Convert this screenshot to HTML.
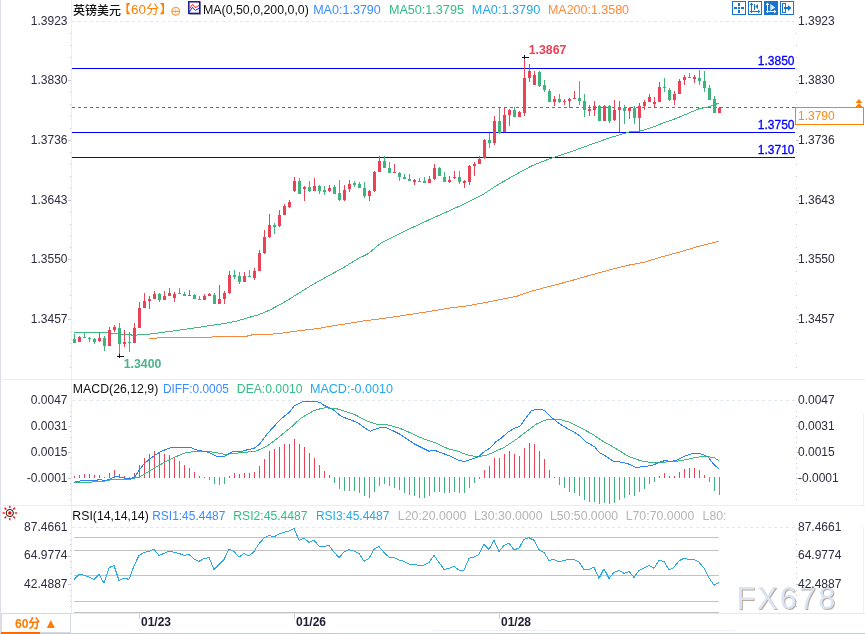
<!DOCTYPE html>
<html><head><meta charset="utf-8"><title>GBPUSD</title>
<style>
html,body{margin:0;padding:0;background:#fff;}
body{width:865px;height:634px;overflow:hidden;position:relative;}
svg{position:absolute;left:0;top:0;}
svg text{font-family:"Liberation Sans", Arial, sans-serif;font-size:12px;}
.cjk{font-family:"Liberation Sans", "Noto Sans CJK SC", sans-serif;}
</style></head><body>
<svg width="865" height="634" viewBox="0 0 865 634">
<text x="737.5" y="609.8" style="font-size:30.5px;letter-spacing:2.2px" fill="#b3a291" opacity="0.9">FX678</text>
<text x="736.5" y="608.8" style="font-size:30.5px;letter-spacing:2.2px" fill="#d9e5f4">FX678</text>
<g shape-rendering="crispEdges">
<rect x="0" y="0" width="1" height="634" fill="#dcdee8"/>
<rect x="71" y="0" width="1" height="613" fill="#e9eef4"/>
<rect x="0" y="379" width="865" height="1" fill="#eaeef3"/>
<rect x="0" y="505" width="865" height="1" fill="#eaeef3"/>
<rect x="0" y="613" width="865" height="1" fill="#e3e8ee"/>
<rect x="0" y="633" width="865" height="1" fill="#c9ced6"/>
<rect x="433" y="630" width="302" height="1" fill="#eef1f5"/>
<rect x="863" y="413" width="1" height="92" fill="#eef1f5"/>
<rect x="863" y="527" width="1" height="86" fill="#eef1f5"/>
<line x1="72" y1="21.5" x2="795" y2="21.5" stroke="#e3e8ee" stroke-width="1" stroke-dasharray="3,3"/>
<line x1="72" y1="400.5" x2="795" y2="400.5" stroke="#e3e8ee" stroke-width="1" stroke-dasharray="3,3"/>
<line x1="72" y1="527.5" x2="795" y2="527.5" stroke="#e3e8ee" stroke-width="1" stroke-dasharray="3,3"/>
</g>
<g fill="#c4cad4" shape-rendering="crispEdges">
<rect x="70" y="33" width="1" height="1"/>
<rect x="796" y="33" width="1" height="1"/>
<rect x="70" y="45" width="1" height="1"/>
<rect x="796" y="45" width="1" height="1"/>
<rect x="70" y="57" width="1" height="1"/>
<rect x="796" y="57" width="1" height="1"/>
<rect x="70" y="69" width="1" height="1"/>
<rect x="796" y="69" width="1" height="1"/>
<rect x="68" y="80" width="3" height="1"/>
<rect x="796" y="80" width="3" height="1"/>
<rect x="70" y="92" width="1" height="1"/>
<rect x="796" y="92" width="1" height="1"/>
<rect x="70" y="104" width="1" height="1"/>
<rect x="796" y="104" width="1" height="1"/>
<rect x="70" y="116" width="1" height="1"/>
<rect x="796" y="116" width="1" height="1"/>
<rect x="70" y="128" width="1" height="1"/>
<rect x="796" y="128" width="1" height="1"/>
<rect x="68" y="140" width="3" height="1"/>
<rect x="796" y="140" width="3" height="1"/>
<rect x="70" y="152" width="1" height="1"/>
<rect x="796" y="152" width="1" height="1"/>
<rect x="70" y="164" width="1" height="1"/>
<rect x="796" y="164" width="1" height="1"/>
<rect x="70" y="176" width="1" height="1"/>
<rect x="796" y="176" width="1" height="1"/>
<rect x="70" y="188" width="1" height="1"/>
<rect x="796" y="188" width="1" height="1"/>
<rect x="68" y="200" width="3" height="1"/>
<rect x="796" y="200" width="3" height="1"/>
<rect x="70" y="212" width="1" height="1"/>
<rect x="796" y="212" width="1" height="1"/>
<rect x="70" y="224" width="1" height="1"/>
<rect x="796" y="224" width="1" height="1"/>
<rect x="70" y="236" width="1" height="1"/>
<rect x="796" y="236" width="1" height="1"/>
<rect x="70" y="247" width="1" height="1"/>
<rect x="796" y="247" width="1" height="1"/>
<rect x="68" y="259" width="3" height="1"/>
<rect x="796" y="259" width="3" height="1"/>
<rect x="70" y="271" width="1" height="1"/>
<rect x="796" y="271" width="1" height="1"/>
<rect x="70" y="283" width="1" height="1"/>
<rect x="796" y="283" width="1" height="1"/>
<rect x="70" y="295" width="1" height="1"/>
<rect x="796" y="295" width="1" height="1"/>
<rect x="70" y="307" width="1" height="1"/>
<rect x="796" y="307" width="1" height="1"/>
<rect x="68" y="319" width="3" height="1"/>
<rect x="796" y="319" width="3" height="1"/>
<rect x="70" y="331" width="1" height="1"/>
<rect x="796" y="331" width="1" height="1"/>
<rect x="70" y="343" width="1" height="1"/>
<rect x="796" y="343" width="1" height="1"/>
<rect x="70" y="355" width="1" height="1"/>
<rect x="796" y="355" width="1" height="1"/>
<rect x="70" y="367" width="1" height="1"/>
<rect x="796" y="367" width="1" height="1"/>
<rect x="70" y="405" width="1" height="1"/>
<rect x="796" y="405" width="1" height="1"/>
<rect x="70" y="411" width="1" height="1"/>
<rect x="796" y="411" width="1" height="1"/>
<rect x="70" y="416" width="1" height="1"/>
<rect x="796" y="416" width="1" height="1"/>
<rect x="70" y="421" width="1" height="1"/>
<rect x="796" y="421" width="1" height="1"/>
<rect x="68" y="426" width="3" height="1"/>
<rect x="796" y="426" width="3" height="1"/>
<rect x="70" y="431" width="1" height="1"/>
<rect x="796" y="431" width="1" height="1"/>
<rect x="70" y="437" width="1" height="1"/>
<rect x="796" y="437" width="1" height="1"/>
<rect x="70" y="442" width="1" height="1"/>
<rect x="796" y="442" width="1" height="1"/>
<rect x="70" y="447" width="1" height="1"/>
<rect x="796" y="447" width="1" height="1"/>
<rect x="68" y="452" width="3" height="1"/>
<rect x="796" y="452" width="3" height="1"/>
<rect x="70" y="457" width="1" height="1"/>
<rect x="796" y="457" width="1" height="1"/>
<rect x="70" y="463" width="1" height="1"/>
<rect x="796" y="463" width="1" height="1"/>
<rect x="70" y="468" width="1" height="1"/>
<rect x="796" y="468" width="1" height="1"/>
<rect x="70" y="473" width="1" height="1"/>
<rect x="796" y="473" width="1" height="1"/>
<rect x="68" y="478" width="3" height="1"/>
<rect x="796" y="478" width="3" height="1"/>
<rect x="70" y="483" width="1" height="1"/>
<rect x="796" y="483" width="1" height="1"/>
<rect x="70" y="489" width="1" height="1"/>
<rect x="796" y="489" width="1" height="1"/>
<rect x="70" y="494" width="1" height="1"/>
<rect x="796" y="494" width="1" height="1"/>
<rect x="70" y="499" width="1" height="1"/>
<rect x="796" y="499" width="1" height="1"/>
<rect x="70" y="533" width="1" height="1"/>
<rect x="796" y="533" width="1" height="1"/>
<rect x="70" y="539" width="1" height="1"/>
<rect x="796" y="539" width="1" height="1"/>
<rect x="70" y="544" width="1" height="1"/>
<rect x="796" y="544" width="1" height="1"/>
<rect x="70" y="550" width="1" height="1"/>
<rect x="796" y="550" width="1" height="1"/>
<rect x="68" y="556" width="3" height="1"/>
<rect x="796" y="556" width="3" height="1"/>
<rect x="70" y="561" width="1" height="1"/>
<rect x="796" y="561" width="1" height="1"/>
<rect x="70" y="567" width="1" height="1"/>
<rect x="796" y="567" width="1" height="1"/>
<rect x="70" y="573" width="1" height="1"/>
<rect x="796" y="573" width="1" height="1"/>
<rect x="70" y="578" width="1" height="1"/>
<rect x="796" y="578" width="1" height="1"/>
<rect x="68" y="584" width="3" height="1"/>
<rect x="796" y="584" width="3" height="1"/>
<rect x="70" y="590" width="1" height="1"/>
<rect x="796" y="590" width="1" height="1"/>
<rect x="70" y="595" width="1" height="1"/>
<rect x="796" y="595" width="1" height="1"/>
<rect x="70" y="601" width="1" height="1"/>
<rect x="796" y="601" width="1" height="1"/>
<rect x="70" y="606" width="1" height="1"/>
<rect x="796" y="606" width="1" height="1"/>
</g>
<g shape-rendering="crispEdges">
<rect x="72" y="68" width="723" height="1" fill="#0000ff"/>
<rect x="72" y="132" width="723" height="1" fill="#0000ff"/>
<rect x="72" y="157" width="723" height="1" fill="#0000ff"/>
<line x1="72" y1="107.5" x2="795" y2="107.5" stroke="#1a7dff" stroke-width="1" stroke-dasharray="3,3"/>
</g>
<polyline points="149.2,338.5 156.6,338.5 157.6,337.7 210.3,337.4 214.0,336.6 247.3,336.1 249.1,335.1 267.6,334.4 276.9,333.7 288.0,332.4 293.5,331.4 300.0,330.6 316.2,328.8 332.4,325.9 348.5,323.5 364.7,320.7 380.9,318.8 397.1,316.4 413.3,313.9 430.0,311.4 447.3,308.4 464.7,306.2 482.0,303.2 499.4,299.7 516.7,296.3 525.4,293.1 534.0,290.5 551.4,285.9 568.7,281.4 580.0,278.1 592.3,274.7 609.7,269.9 627.0,265.5 644.4,262.1 661.7,256.9 679.0,252.2 696.4,247.0 713.7,242.5 718.6,241.3" fill="none" stroke="#f58a3c" stroke-width="1" shape-rendering="crispEdges"/>
<polyline points="74.0,332.5 107.0,332.5 112.0,333.5 122.0,334.3 134.0,335.2 140.0,334.8 151.1,333.9 162.2,332.4 173.3,331.0 184.4,329.4 195.5,327.8 210.3,325.5 223.2,323.7 236.2,321.3 247.3,317.9 258.4,314.8 269.5,310.2 280.6,304.3 288.0,300.0 296.2,294.8 312.4,284.7 328.5,275.8 344.7,266.9 357.7,258.8 368.2,253.7 380.3,243.5 393.3,237.0 409.4,228.9 427.3,220.6 444.7,212.8 462.0,205.0 482.8,194.6 496.7,185.4 514.0,175.5 531.4,166.0 548.7,159.1 570.2,152.0 590.5,144.6 610.7,137.5 629.0,132.0 641.8,130.8 655.0,126.3 663.9,122.6 675.2,118.8 685.0,114.7 698.5,109.0 709.3,106.8 718.7,103.2" fill="none" stroke="#3dbb7e" stroke-width="1" shape-rendering="crispEdges"/>
<g shape-rendering="crispEdges">
<rect x="74" y="334" width="1" height="9" fill="#40b27b"/>
<rect x="73" y="339" width="3" height="4" fill="#40b27b"/>
<rect x="79" y="336" width="1" height="6" fill="#e84356"/>
<rect x="78" y="337" width="3" height="5" fill="#e84356"/>
<rect x="84" y="333" width="1" height="5" fill="#40b27b"/>
<rect x="83" y="337" width="3" height="1" fill="#40b27b"/>
<rect x="89" y="337" width="1" height="5" fill="#40b27b"/>
<rect x="88" y="338" width="3" height="1" fill="#40b27b"/>
<rect x="94" y="338" width="1" height="6" fill="#40b27b"/>
<rect x="93" y="339" width="3" height="3" fill="#40b27b"/>
<rect x="99" y="333" width="1" height="9" fill="#e84356"/>
<rect x="98" y="338" width="3" height="3" fill="#e84356"/>
<rect x="104" y="336" width="1" height="15" fill="#40b27b"/>
<rect x="103" y="338" width="3" height="8" fill="#40b27b"/>
<rect x="109" y="327" width="1" height="19" fill="#e84356"/>
<rect x="108" y="330" width="3" height="16" fill="#e84356"/>
<rect x="114" y="325" width="1" height="7" fill="#e84356"/>
<rect x="113" y="327" width="3" height="3" fill="#e84356"/>
<rect x="119" y="323" width="1" height="31" fill="#40b27b"/>
<rect x="118" y="328" width="3" height="16" fill="#40b27b"/>
<rect x="124" y="330" width="1" height="17" fill="#e84356"/>
<rect x="123" y="342" width="3" height="2" fill="#e84356"/>
<rect x="129" y="332" width="1" height="20" fill="#40b27b"/>
<rect x="128" y="342" width="3" height="1" fill="#40b27b"/>
<rect x="134" y="323" width="1" height="20" fill="#e84356"/>
<rect x="133" y="328" width="3" height="15" fill="#e84356"/>
<rect x="139" y="302" width="1" height="26" fill="#e84356"/>
<rect x="138" y="308" width="3" height="20" fill="#e84356"/>
<rect x="144" y="293" width="1" height="15" fill="#e84356"/>
<rect x="143" y="301" width="3" height="7" fill="#e84356"/>
<rect x="149" y="296" width="1" height="13" fill="#e84356"/>
<rect x="148" y="299" width="3" height="2" fill="#e84356"/>
<rect x="154" y="291" width="1" height="8" fill="#e84356"/>
<rect x="153" y="294" width="3" height="5" fill="#e84356"/>
<rect x="159" y="293" width="1" height="9" fill="#40b27b"/>
<rect x="158" y="294" width="3" height="6" fill="#40b27b"/>
<rect x="164" y="291" width="1" height="9" fill="#e84356"/>
<rect x="163" y="296" width="3" height="4" fill="#e84356"/>
<rect x="169" y="288" width="1" height="8" fill="#e84356"/>
<rect x="168" y="293" width="3" height="3" fill="#e84356"/>
<rect x="174" y="292" width="1" height="10" fill="#e84356"/>
<rect x="173" y="294" width="3" height="4" fill="#e84356"/>
<rect x="179" y="288" width="1" height="6" fill="#40b27b"/>
<rect x="178" y="293" width="3" height="1" fill="#40b27b"/>
<rect x="184" y="292" width="1" height="4" fill="#40b27b"/>
<rect x="183" y="294" width="3" height="2" fill="#40b27b"/>
<rect x="189" y="290" width="1" height="6" fill="#e84356"/>
<rect x="188" y="295" width="3" height="1" fill="#e84356"/>
<rect x="194" y="294" width="1" height="5" fill="#40b27b"/>
<rect x="193" y="295" width="3" height="4" fill="#40b27b"/>
<rect x="199" y="296" width="1" height="4" fill="#40b27b"/>
<rect x="198" y="299" width="3" height="1" fill="#40b27b"/>
<rect x="204" y="294" width="1" height="6" fill="#e84356"/>
<rect x="203" y="296" width="3" height="4" fill="#e84356"/>
<rect x="209" y="293" width="1" height="3" fill="#e84356"/>
<rect x="208" y="294" width="3" height="2" fill="#e84356"/>
<rect x="214" y="293" width="1" height="11" fill="#40b27b"/>
<rect x="213" y="295" width="3" height="9" fill="#40b27b"/>
<rect x="219" y="285" width="1" height="19" fill="#e84356"/>
<rect x="218" y="299" width="3" height="5" fill="#e84356"/>
<rect x="224" y="291" width="1" height="13" fill="#e84356"/>
<rect x="223" y="293" width="3" height="6" fill="#e84356"/>
<rect x="229" y="271" width="1" height="23" fill="#e84356"/>
<rect x="228" y="275" width="3" height="18" fill="#e84356"/>
<rect x="234" y="270" width="1" height="9" fill="#40b27b"/>
<rect x="233" y="275" width="3" height="2" fill="#40b27b"/>
<rect x="239" y="272" width="1" height="12" fill="#40b27b"/>
<rect x="238" y="276" width="3" height="6" fill="#40b27b"/>
<rect x="244" y="272" width="1" height="10" fill="#e84356"/>
<rect x="243" y="276" width="3" height="6" fill="#e84356"/>
<rect x="249" y="270" width="1" height="7" fill="#40b27b"/>
<rect x="248" y="276" width="3" height="1" fill="#40b27b"/>
<rect x="254" y="268" width="1" height="12" fill="#e84356"/>
<rect x="253" y="271" width="3" height="7" fill="#e84356"/>
<rect x="259" y="250" width="1" height="21" fill="#e84356"/>
<rect x="258" y="253" width="3" height="18" fill="#e84356"/>
<rect x="264" y="230" width="1" height="24" fill="#e84356"/>
<rect x="263" y="237" width="3" height="16" fill="#e84356"/>
<rect x="269" y="214" width="1" height="24" fill="#e84356"/>
<rect x="268" y="225" width="3" height="12" fill="#e84356"/>
<rect x="274" y="223" width="1" height="11" fill="#40b27b"/>
<rect x="273" y="225" width="3" height="2" fill="#40b27b"/>
<rect x="279" y="210" width="1" height="17" fill="#e84356"/>
<rect x="278" y="215" width="3" height="11" fill="#e84356"/>
<rect x="284" y="204" width="1" height="11" fill="#e84356"/>
<rect x="283" y="206" width="3" height="9" fill="#e84356"/>
<rect x="289" y="200" width="1" height="8" fill="#e84356"/>
<rect x="288" y="202" width="3" height="5" fill="#e84356"/>
<rect x="294" y="177" width="1" height="15" fill="#e84356"/>
<rect x="293" y="181" width="3" height="10" fill="#e84356"/>
<rect x="299" y="178" width="1" height="16" fill="#40b27b"/>
<rect x="298" y="181" width="3" height="13" fill="#40b27b"/>
<rect x="304" y="186" width="1" height="15" fill="#e84356"/>
<rect x="303" y="187" width="3" height="2" fill="#e84356"/>
<rect x="309" y="181" width="1" height="11" fill="#40b27b"/>
<rect x="308" y="187" width="3" height="4" fill="#40b27b"/>
<rect x="314" y="178" width="1" height="13" fill="#e84356"/>
<rect x="313" y="186" width="3" height="5" fill="#e84356"/>
<rect x="319" y="185" width="1" height="9" fill="#40b27b"/>
<rect x="318" y="186" width="3" height="5" fill="#40b27b"/>
<rect x="324" y="186" width="1" height="9" fill="#40b27b"/>
<rect x="323" y="190" width="3" height="2" fill="#40b27b"/>
<rect x="329" y="185" width="1" height="7" fill="#e84356"/>
<rect x="328" y="188" width="3" height="3" fill="#e84356"/>
<rect x="334" y="185" width="1" height="9" fill="#40b27b"/>
<rect x="333" y="187" width="3" height="7" fill="#40b27b"/>
<rect x="339" y="180" width="1" height="21" fill="#40b27b"/>
<rect x="338" y="193" width="3" height="7" fill="#40b27b"/>
<rect x="344" y="185" width="1" height="16" fill="#e84356"/>
<rect x="343" y="190" width="3" height="10" fill="#e84356"/>
<rect x="349" y="180" width="1" height="12" fill="#e84356"/>
<rect x="348" y="184" width="3" height="5" fill="#e84356"/>
<rect x="354" y="181" width="1" height="6" fill="#40b27b"/>
<rect x="353" y="183" width="3" height="2" fill="#40b27b"/>
<rect x="359" y="182" width="1" height="6" fill="#40b27b"/>
<rect x="358" y="184" width="3" height="4" fill="#40b27b"/>
<rect x="364" y="182" width="1" height="16" fill="#40b27b"/>
<rect x="363" y="188" width="3" height="8" fill="#40b27b"/>
<rect x="369" y="190" width="1" height="11" fill="#e84356"/>
<rect x="368" y="191" width="3" height="5" fill="#e84356"/>
<rect x="374" y="171" width="1" height="21" fill="#e84356"/>
<rect x="373" y="172" width="3" height="19" fill="#e84356"/>
<rect x="379" y="156" width="1" height="16" fill="#e84356"/>
<rect x="378" y="161" width="3" height="11" fill="#e84356"/>
<rect x="384" y="156" width="1" height="12" fill="#40b27b"/>
<rect x="383" y="161" width="3" height="7" fill="#40b27b"/>
<rect x="389" y="162" width="1" height="11" fill="#40b27b"/>
<rect x="388" y="168" width="3" height="5" fill="#40b27b"/>
<rect x="394" y="164" width="1" height="9" fill="#e84356"/>
<rect x="393" y="172" width="3" height="1" fill="#e84356"/>
<rect x="399" y="172" width="1" height="9" fill="#40b27b"/>
<rect x="398" y="173" width="3" height="4" fill="#40b27b"/>
<rect x="404" y="174" width="1" height="5" fill="#40b27b"/>
<rect x="403" y="177" width="3" height="2" fill="#40b27b"/>
<rect x="409" y="174" width="1" height="7" fill="#40b27b"/>
<rect x="408" y="179" width="3" height="2" fill="#40b27b"/>
<rect x="414" y="179" width="1" height="6" fill="#e84356"/>
<rect x="413" y="180" width="3" height="2" fill="#e84356"/>
<rect x="419" y="178" width="1" height="4" fill="#40b27b"/>
<rect x="418" y="181" width="3" height="1" fill="#40b27b"/>
<rect x="424" y="177" width="1" height="6" fill="#40b27b"/>
<rect x="423" y="181" width="3" height="2" fill="#40b27b"/>
<rect x="429" y="176" width="1" height="7" fill="#e84356"/>
<rect x="428" y="179" width="3" height="4" fill="#e84356"/>
<rect x="434" y="164" width="1" height="16" fill="#e84356"/>
<rect x="433" y="168" width="3" height="11" fill="#e84356"/>
<rect x="439" y="167" width="1" height="9" fill="#40b27b"/>
<rect x="438" y="168" width="3" height="8" fill="#40b27b"/>
<rect x="444" y="172" width="1" height="10" fill="#40b27b"/>
<rect x="443" y="177" width="3" height="5" fill="#40b27b"/>
<rect x="449" y="176" width="1" height="7" fill="#e84356"/>
<rect x="448" y="180" width="3" height="2" fill="#e84356"/>
<rect x="454" y="171" width="1" height="8" fill="#e84356"/>
<rect x="453" y="177" width="3" height="1" fill="#e84356"/>
<rect x="459" y="171" width="1" height="13" fill="#40b27b"/>
<rect x="458" y="177" width="3" height="5" fill="#40b27b"/>
<rect x="464" y="180" width="1" height="8" fill="#e84356"/>
<rect x="463" y="181" width="3" height="2" fill="#e84356"/>
<rect x="469" y="165" width="1" height="20" fill="#e84356"/>
<rect x="468" y="166" width="3" height="16" fill="#e84356"/>
<rect x="474" y="162" width="1" height="14" fill="#e84356"/>
<rect x="473" y="164" width="3" height="2" fill="#e84356"/>
<rect x="479" y="156" width="1" height="8" fill="#e84356"/>
<rect x="478" y="159" width="3" height="5" fill="#e84356"/>
<rect x="484" y="139" width="1" height="20" fill="#e84356"/>
<rect x="483" y="140" width="3" height="18" fill="#e84356"/>
<rect x="489" y="133" width="1" height="15" fill="#40b27b"/>
<rect x="488" y="140" width="3" height="3" fill="#40b27b"/>
<rect x="494" y="116" width="1" height="29" fill="#e84356"/>
<rect x="493" y="121" width="3" height="22" fill="#e84356"/>
<rect x="499" y="108" width="1" height="26" fill="#40b27b"/>
<rect x="498" y="121" width="3" height="12" fill="#40b27b"/>
<rect x="504" y="108" width="1" height="24" fill="#e84356"/>
<rect x="503" y="115" width="3" height="17" fill="#e84356"/>
<rect x="509" y="109" width="1" height="17" fill="#e84356"/>
<rect x="508" y="110" width="3" height="5" fill="#e84356"/>
<rect x="514" y="107" width="1" height="10" fill="#40b27b"/>
<rect x="513" y="110" width="3" height="7" fill="#40b27b"/>
<rect x="519" y="111" width="1" height="6" fill="#e84356"/>
<rect x="518" y="112" width="3" height="5" fill="#e84356"/>
<rect x="524" y="59" width="1" height="57" fill="#e84356"/>
<rect x="523" y="78" width="3" height="35" fill="#e84356"/>
<rect x="529" y="64" width="1" height="18" fill="#e84356"/>
<rect x="528" y="71" width="3" height="7" fill="#e84356"/>
<rect x="534" y="71" width="1" height="14" fill="#e84356"/>
<rect x="533" y="75" width="3" height="10" fill="#e84356"/>
<rect x="539" y="71" width="1" height="16" fill="#40b27b"/>
<rect x="538" y="72" width="3" height="14" fill="#40b27b"/>
<rect x="544" y="80" width="1" height="12" fill="#40b27b"/>
<rect x="543" y="85" width="3" height="5" fill="#40b27b"/>
<rect x="549" y="89" width="1" height="13" fill="#40b27b"/>
<rect x="548" y="91" width="3" height="11" fill="#40b27b"/>
<rect x="554" y="96" width="1" height="10" fill="#e84356"/>
<rect x="553" y="99" width="3" height="3" fill="#e84356"/>
<rect x="559" y="94" width="1" height="9" fill="#40b27b"/>
<rect x="558" y="99" width="3" height="3" fill="#40b27b"/>
<rect x="564" y="99" width="1" height="6" fill="#e84356"/>
<rect x="563" y="101" width="3" height="1" fill="#e84356"/>
<rect x="569" y="98" width="1" height="10" fill="#e84356"/>
<rect x="568" y="99" width="3" height="2" fill="#e84356"/>
<rect x="574" y="91" width="1" height="8" fill="#e84356"/>
<rect x="573" y="98" width="3" height="1" fill="#e84356"/>
<rect x="579" y="81" width="1" height="24" fill="#40b27b"/>
<rect x="578" y="98" width="3" height="3" fill="#40b27b"/>
<rect x="584" y="94" width="1" height="23" fill="#40b27b"/>
<rect x="583" y="101" width="3" height="9" fill="#40b27b"/>
<rect x="589" y="105" width="1" height="11" fill="#e84356"/>
<rect x="588" y="109" width="3" height="2" fill="#e84356"/>
<rect x="594" y="101" width="1" height="15" fill="#e84356"/>
<rect x="593" y="106" width="3" height="4" fill="#e84356"/>
<rect x="599" y="105" width="1" height="16" fill="#40b27b"/>
<rect x="598" y="106" width="3" height="15" fill="#40b27b"/>
<rect x="604" y="105" width="1" height="16" fill="#e84356"/>
<rect x="603" y="106" width="3" height="15" fill="#e84356"/>
<rect x="609" y="105" width="1" height="18" fill="#40b27b"/>
<rect x="608" y="106" width="3" height="15" fill="#40b27b"/>
<rect x="614" y="100" width="1" height="21" fill="#e84356"/>
<rect x="613" y="110" width="3" height="10" fill="#e84356"/>
<rect x="619" y="101" width="1" height="31" fill="#e84356"/>
<rect x="618" y="108" width="3" height="2" fill="#e84356"/>
<rect x="624" y="105" width="1" height="19" fill="#40b27b"/>
<rect x="623" y="108" width="3" height="3" fill="#40b27b"/>
<rect x="629" y="107" width="1" height="12" fill="#e84356"/>
<rect x="628" y="108" width="3" height="3" fill="#e84356"/>
<rect x="634" y="106" width="1" height="18" fill="#40b27b"/>
<rect x="633" y="108" width="3" height="10" fill="#40b27b"/>
<rect x="639" y="103" width="1" height="29" fill="#e84356"/>
<rect x="638" y="106" width="3" height="12" fill="#e84356"/>
<rect x="644" y="100" width="1" height="10" fill="#e84356"/>
<rect x="643" y="102" width="3" height="4" fill="#e84356"/>
<rect x="649" y="94" width="1" height="8" fill="#e84356"/>
<rect x="648" y="97" width="3" height="5" fill="#e84356"/>
<rect x="654" y="97" width="1" height="10" fill="#e84356"/>
<rect x="653" y="102" width="3" height="2" fill="#e84356"/>
<rect x="659" y="82" width="1" height="20" fill="#e84356"/>
<rect x="658" y="87" width="3" height="15" fill="#e84356"/>
<rect x="664" y="78" width="1" height="14" fill="#40b27b"/>
<rect x="663" y="87" width="3" height="1" fill="#40b27b"/>
<rect x="669" y="88" width="1" height="13" fill="#40b27b"/>
<rect x="668" y="90" width="3" height="10" fill="#40b27b"/>
<rect x="674" y="91" width="1" height="14" fill="#e84356"/>
<rect x="673" y="94" width="3" height="6" fill="#e84356"/>
<rect x="679" y="79" width="1" height="15" fill="#e84356"/>
<rect x="678" y="81" width="3" height="13" fill="#e84356"/>
<rect x="684" y="75" width="1" height="10" fill="#e84356"/>
<rect x="683" y="77" width="3" height="3" fill="#e84356"/>
<rect x="689" y="73" width="1" height="5" fill="#40b27b"/>
<rect x="688" y="77" width="3" height="1" fill="#40b27b"/>
<rect x="694" y="75" width="1" height="8" fill="#e84356"/>
<rect x="693" y="77" width="3" height="2" fill="#e84356"/>
<rect x="699" y="70" width="1" height="15" fill="#40b27b"/>
<rect x="698" y="78" width="3" height="3" fill="#40b27b"/>
<rect x="704" y="71" width="1" height="21" fill="#40b27b"/>
<rect x="703" y="81" width="3" height="7" fill="#40b27b"/>
<rect x="709" y="85" width="1" height="15" fill="#40b27b"/>
<rect x="708" y="88" width="3" height="12" fill="#40b27b"/>
<rect x="714" y="96" width="1" height="17" fill="#40b27b"/>
<rect x="713" y="99" width="3" height="14" fill="#40b27b"/>
<rect x="719" y="107" width="1" height="6" fill="#e84356"/>
<rect x="718" y="108" width="3" height="5" fill="#e84356"/>
</g>
<g shape-rendering="crispEdges" fill="#111">
<rect x="522" y="57" width="7" height="1"/><rect x="524" y="55" width="1" height="4"/>
<rect x="117" y="356" width="7" height="1"/><rect x="119" y="354" width="1" height="4"/>
</g>
<text x="528.7" y="54" style="font-weight:bold" fill="#e84356" textLength="37.7" lengthAdjust="spacingAndGlyphs">1.3867</text>
<text x="123.7" y="367.5" style="font-weight:bold" fill="#47b58a" textLength="37.7" lengthAdjust="spacingAndGlyphs">1.3400</text>
<text x="794.5" y="65" text-anchor="end" fill="#0000ff" stroke="#0000ff" stroke-width="0.3">1.3850</text>
<text x="794.5" y="128.5" text-anchor="end" fill="#0000ff" stroke="#0000ff" stroke-width="0.3">1.3750</text>
<text x="794.5" y="153.5" text-anchor="end" fill="#0000ff" stroke="#0000ff" stroke-width="0.3">1.3710</text>
<rect x="795.5" y="107.5" width="68" height="17" fill="#fff" stroke="#ff7f00" stroke-width="1"/>
<text x="798" y="120" fill="#ff8a10">1.3790</text>
<path d="M859 99 L862.5 103 L855.5 103 Z M859 103 L863 107.5 L855 107.5 Z" fill="#ff7f00"/>
<text x="67.5" y="24.9" text-anchor="end" fill="#2d2c40">1.3923</text>
<text x="798" y="24.9" fill="#2d2c40">1.3923</text>
<text x="67.5" y="83.9" text-anchor="end" fill="#2d2c40">1.3830</text>
<text x="798" y="83.9" fill="#2d2c40">1.3830</text>
<text x="67.5" y="143.9" text-anchor="end" fill="#2d2c40">1.3736</text>
<text x="798" y="143.9" fill="#2d2c40">1.3736</text>
<text x="67.5" y="203.9" text-anchor="end" fill="#2d2c40">1.3643</text>
<text x="798" y="203.9" fill="#2d2c40">1.3643</text>
<text x="67.5" y="262.9" text-anchor="end" fill="#2d2c40">1.3550</text>
<text x="798" y="262.9" fill="#2d2c40">1.3550</text>
<text x="67.5" y="322.9" text-anchor="end" fill="#2d2c40">1.3457</text>
<text x="798" y="322.9" fill="#2d2c40">1.3457</text>
<text x="67.5" y="403.9" text-anchor="end" fill="#2d2c40">0.0047</text>
<text x="798" y="403.9" fill="#2d2c40">0.0047</text>
<text x="67.5" y="429.9" text-anchor="end" fill="#2d2c40">0.0031</text>
<text x="798" y="429.9" fill="#2d2c40">0.0031</text>
<text x="67.5" y="455.9" text-anchor="end" fill="#2d2c40">0.0015</text>
<text x="798" y="455.9" fill="#2d2c40">0.0015</text>
<text x="67.5" y="481.9" text-anchor="end" fill="#2d2c40">-0.0001</text>
<text x="798" y="481.9" fill="#2d2c40">-0.0001</text>
<text x="67.5" y="530.8" text-anchor="end" fill="#2d2c40">87.4661</text>
<text x="798" y="530.8" fill="#2d2c40">87.4661</text>
<text x="67.5" y="559.0" text-anchor="end" fill="#2d2c40">64.9774</text>
<text x="798" y="559.0" fill="#2d2c40">64.9774</text>
<text x="67.5" y="587.8" text-anchor="end" fill="#2d2c40">42.4887</text>
<text x="798" y="587.8" fill="#2d2c40">42.4887</text>
<g shape-rendering="crispEdges">
<rect x="74" y="476" width="1" height="2" fill="#e84356"/>
<rect x="79" y="475" width="1" height="3" fill="#e84356"/>
<rect x="84" y="474" width="1" height="4" fill="#e84356"/>
<rect x="89" y="474" width="1" height="4" fill="#e84356"/>
<rect x="94" y="475" width="1" height="3" fill="#e84356"/>
<rect x="99" y="475" width="1" height="3" fill="#e84356"/>
<rect x="104" y="477" width="1" height="1" fill="#e84356"/>
<rect x="109" y="473" width="1" height="5" fill="#e84356"/>
<rect x="114" y="470" width="1" height="8" fill="#e84356"/>
<rect x="119" y="474" width="1" height="4" fill="#e84356"/>
<rect x="124" y="476" width="1" height="2" fill="#e84356"/>
<rect x="129" y="477" width="1" height="2" fill="#40b27b"/>
<rect x="134" y="473" width="1" height="5" fill="#e84356"/>
<rect x="139" y="465" width="1" height="13" fill="#e84356"/>
<rect x="144" y="458" width="1" height="20" fill="#e84356"/>
<rect x="149" y="454" width="1" height="24" fill="#e84356"/>
<rect x="154" y="451" width="1" height="27" fill="#e84356"/>
<rect x="159" y="452" width="1" height="26" fill="#e84356"/>
<rect x="164" y="454" width="1" height="24" fill="#e84356"/>
<rect x="169" y="455" width="1" height="23" fill="#e84356"/>
<rect x="174" y="458" width="1" height="20" fill="#e84356"/>
<rect x="179" y="461" width="1" height="17" fill="#e84356"/>
<rect x="184" y="465" width="1" height="13" fill="#e84356"/>
<rect x="189" y="468" width="1" height="10" fill="#e84356"/>
<rect x="194" y="472" width="1" height="6" fill="#e84356"/>
<rect x="199" y="476" width="1" height="2" fill="#e84356"/>
<rect x="204" y="477" width="1" height="1" fill="#40b27b"/>
<rect x="209" y="477" width="1" height="3" fill="#40b27b"/>
<rect x="214" y="477" width="1" height="7" fill="#40b27b"/>
<rect x="219" y="477" width="1" height="8" fill="#40b27b"/>
<rect x="224" y="477" width="1" height="7" fill="#40b27b"/>
<rect x="229" y="476" width="1" height="2" fill="#e84356"/>
<rect x="234" y="473" width="1" height="5" fill="#e84356"/>
<rect x="239" y="474" width="1" height="4" fill="#e84356"/>
<rect x="244" y="473" width="1" height="5" fill="#e84356"/>
<rect x="249" y="473" width="1" height="5" fill="#e84356"/>
<rect x="254" y="472" width="1" height="6" fill="#e84356"/>
<rect x="259" y="466" width="1" height="12" fill="#e84356"/>
<rect x="264" y="459" width="1" height="19" fill="#e84356"/>
<rect x="269" y="451" width="1" height="27" fill="#e84356"/>
<rect x="274" y="449" width="1" height="29" fill="#e84356"/>
<rect x="279" y="447" width="1" height="31" fill="#e84356"/>
<rect x="284" y="444" width="1" height="34" fill="#e84356"/>
<rect x="289" y="444" width="1" height="34" fill="#e84356"/>
<rect x="294" y="439" width="1" height="39" fill="#e84356"/>
<rect x="299" y="444" width="1" height="34" fill="#e84356"/>
<rect x="304" y="447" width="1" height="31" fill="#e84356"/>
<rect x="309" y="453" width="1" height="25" fill="#e84356"/>
<rect x="314" y="458" width="1" height="20" fill="#e84356"/>
<rect x="319" y="465" width="1" height="13" fill="#e84356"/>
<rect x="324" y="471" width="1" height="7" fill="#e84356"/>
<rect x="329" y="475" width="1" height="3" fill="#e84356"/>
<rect x="334" y="477" width="1" height="6" fill="#40b27b"/>
<rect x="339" y="477" width="1" height="12" fill="#40b27b"/>
<rect x="344" y="477" width="1" height="14" fill="#40b27b"/>
<rect x="349" y="477" width="1" height="14" fill="#40b27b"/>
<rect x="354" y="477" width="1" height="14" fill="#40b27b"/>
<rect x="359" y="477" width="1" height="16" fill="#40b27b"/>
<rect x="364" y="477" width="1" height="19" fill="#40b27b"/>
<rect x="369" y="477" width="1" height="21" fill="#40b27b"/>
<rect x="374" y="477" width="1" height="15" fill="#40b27b"/>
<rect x="379" y="477" width="1" height="9" fill="#40b27b"/>
<rect x="384" y="477" width="1" height="7" fill="#40b27b"/>
<rect x="389" y="477" width="1" height="9" fill="#40b27b"/>
<rect x="394" y="477" width="1" height="11" fill="#40b27b"/>
<rect x="399" y="477" width="1" height="13" fill="#40b27b"/>
<rect x="404" y="477" width="1" height="16" fill="#40b27b"/>
<rect x="409" y="477" width="1" height="18" fill="#40b27b"/>
<rect x="414" y="477" width="1" height="19" fill="#40b27b"/>
<rect x="419" y="477" width="1" height="21" fill="#40b27b"/>
<rect x="424" y="477" width="1" height="21" fill="#40b27b"/>
<rect x="429" y="477" width="1" height="19" fill="#40b27b"/>
<rect x="434" y="477" width="1" height="15" fill="#40b27b"/>
<rect x="439" y="477" width="1" height="15" fill="#40b27b"/>
<rect x="444" y="477" width="1" height="16" fill="#40b27b"/>
<rect x="449" y="477" width="1" height="16" fill="#40b27b"/>
<rect x="454" y="477" width="1" height="15" fill="#40b27b"/>
<rect x="459" y="477" width="1" height="16" fill="#40b27b"/>
<rect x="464" y="477" width="1" height="16" fill="#40b27b"/>
<rect x="469" y="477" width="1" height="11" fill="#40b27b"/>
<rect x="474" y="477" width="1" height="6" fill="#40b27b"/>
<rect x="479" y="477" width="1" height="2" fill="#40b27b"/>
<rect x="484" y="470" width="1" height="8" fill="#e84356"/>
<rect x="489" y="466" width="1" height="12" fill="#e84356"/>
<rect x="494" y="458" width="1" height="20" fill="#e84356"/>
<rect x="499" y="458" width="1" height="20" fill="#e84356"/>
<rect x="504" y="454" width="1" height="24" fill="#e84356"/>
<rect x="509" y="451" width="1" height="27" fill="#e84356"/>
<rect x="514" y="454" width="1" height="24" fill="#e84356"/>
<rect x="519" y="456" width="1" height="22" fill="#e84356"/>
<rect x="524" y="448" width="1" height="30" fill="#e84356"/>
<rect x="529" y="443" width="1" height="35" fill="#e84356"/>
<rect x="534" y="444" width="1" height="34" fill="#e84356"/>
<rect x="539" y="451" width="1" height="27" fill="#e84356"/>
<rect x="544" y="459" width="1" height="19" fill="#e84356"/>
<rect x="549" y="470" width="1" height="8" fill="#e84356"/>
<rect x="554" y="477" width="1" height="1" fill="#e84356"/>
<rect x="559" y="477" width="1" height="8" fill="#40b27b"/>
<rect x="564" y="477" width="1" height="11" fill="#40b27b"/>
<rect x="569" y="477" width="1" height="15" fill="#40b27b"/>
<rect x="574" y="477" width="1" height="16" fill="#40b27b"/>
<rect x="579" y="477" width="1" height="19" fill="#40b27b"/>
<rect x="584" y="477" width="1" height="23" fill="#40b27b"/>
<rect x="589" y="477" width="1" height="25" fill="#40b27b"/>
<rect x="594" y="477" width="1" height="25" fill="#40b27b"/>
<rect x="599" y="477" width="1" height="27" fill="#40b27b"/>
<rect x="604" y="477" width="1" height="26" fill="#40b27b"/>
<rect x="609" y="477" width="1" height="27" fill="#40b27b"/>
<rect x="614" y="477" width="1" height="26" fill="#40b27b"/>
<rect x="619" y="477" width="1" height="23" fill="#40b27b"/>
<rect x="624" y="477" width="1" height="21" fill="#40b27b"/>
<rect x="629" y="477" width="1" height="18" fill="#40b27b"/>
<rect x="634" y="477" width="1" height="19" fill="#40b27b"/>
<rect x="639" y="477" width="1" height="15" fill="#40b27b"/>
<rect x="644" y="477" width="1" height="12" fill="#40b27b"/>
<rect x="649" y="477" width="1" height="7" fill="#40b27b"/>
<rect x="654" y="477" width="1" height="5" fill="#40b27b"/>
<rect x="659" y="476" width="1" height="2" fill="#e84356"/>
<rect x="664" y="473" width="1" height="5" fill="#e84356"/>
<rect x="669" y="476" width="1" height="2" fill="#e84356"/>
<rect x="674" y="476" width="1" height="2" fill="#e84356"/>
<rect x="679" y="472" width="1" height="6" fill="#e84356"/>
<rect x="684" y="469" width="1" height="9" fill="#e84356"/>
<rect x="689" y="468" width="1" height="10" fill="#e84356"/>
<rect x="694" y="468" width="1" height="10" fill="#e84356"/>
<rect x="699" y="470" width="1" height="8" fill="#e84356"/>
<rect x="704" y="475" width="1" height="3" fill="#e84356"/>
<rect x="709" y="477" width="1" height="5" fill="#40b27b"/>
<rect x="714" y="477" width="1" height="14" fill="#40b27b"/>
<rect x="719" y="477" width="1" height="18" fill="#40b27b"/>
</g>
<polyline points="74.2,482.7 86.6,482.4 104.7,481.0 111.6,479.7 129.7,479.2 139.4,477.2 147.7,472.0 156.0,467.2 164.3,462.3 174.0,457.5 183.8,453.3 193.3,451.5 210.0,451.6 225.2,454.4 237.7,453.0 255.8,451.2 260.0,449.4 268.5,445.1 277.0,438.7 286.5,430.8 292.2,426.2 300.7,418.2 307.3,414.4 313.0,411.1 317.7,409.4 324.8,407.9 334.8,408.2 343.0,410.7 354.6,414.5 366.2,420.7 376.2,424.0 386.1,424.5 399.3,428.1 409.3,432.3 415.0,435.1 424.9,439.4 436.5,443.3 448.1,448.8 458.0,451.3 466.3,454.6 474.6,456.3 484.5,455.9 491.2,453.3 504.4,447.2 517.6,438.4 527.6,430.6 536.6,424.0 544.9,420.2 551.5,419.3 559.8,419.5 569.7,422.3 579.7,427.3 592.9,434.4 600.8,440.0 614.7,447.8 628.6,456.5 640.7,460.8 649.4,462.2 661.5,462.2 673.6,461.7 687.5,459.4 696.2,457.3 704.8,456.5 713.5,457.3 718.7,460.5" fill="none" stroke="#3dbb7e" stroke-width="1" shape-rendering="crispEdges"/>
<polyline points="74.2,482.2 82.5,480.6 96.4,480.3 99.8,479.4 104.7,480.8 111.6,478.3 115.8,476.2 120.0,477.2 125.5,478.3 131.0,479.0 135.2,476.2 139.4,470.0 143.5,464.4 149.1,459.5 154.6,455.4 161.6,451.2 167.1,448.9 172.7,447.3 190.5,447.5 197.5,450.2 207.2,451.9 216.9,456.3 224.5,456.3 232.9,451.6 240.5,451.6 248.8,449.4 254.4,448.2 260.0,443.7 264.7,437.1 268.5,432.4 274.2,426.2 279.9,420.1 286.5,414.4 289.3,412.5 294.1,405.9 298.8,403.5 303.5,401.4 315.8,401.4 320.0,402.4 323.2,404.9 333.1,409.6 341.4,416.5 349.7,419.5 357.9,422.8 366.2,428.9 370.4,431.1 376.2,428.9 381.1,427.3 386.1,427.6 392.7,430.6 399.3,433.9 407.6,439.4 415.0,444.3 421.6,447.6 429.1,451.3 434.0,450.1 441.5,452.9 451.4,456.6 458.9,460.4 464.7,461.6 471.3,459.2 478.7,456.6 484.5,451.3 490.3,448.0 496.1,441.4 501.1,438.4 507.7,432.3 514.3,428.4 520.1,426.1 525.1,419.0 530.9,411.2 535.0,409.6 541.6,409.6 544.9,410.7 551.5,417.4 559.8,424.0 569.7,429.8 578.0,434.4 586.3,442.2 594.6,446.7 599.5,452.9 606.2,456.3 612.8,460.9 622.7,462.5 629.3,464.2 635.5,467.2 642.4,466.9 652.8,465.1 659.8,462.2 665.0,460.5 671.0,461.7 677.1,459.9 684.0,456.5 691.0,453.9 697.9,453.0 703.1,454.7 708.3,457.3 713.5,464.3 718.7,468.6" fill="none" stroke="#2983f6" stroke-width="1" shape-rendering="crispEdges"/>
<g shape-rendering="crispEdges">
<rect x="74" y="537" width="645" height="1" fill="#c2c2c2"/>
<rect x="74" y="550" width="645" height="1" fill="#c2c2c2"/>
<rect x="74" y="575" width="645" height="1" fill="#c2c2c2"/>
<rect x="74" y="601" width="645" height="1" fill="#c2c2c2"/>
<rect x="74" y="612" width="645" height="1" fill="#c2c2c2"/>
</g>
<polyline points="74.0,579.4 79.0,574.3 84.0,575.2 89.0,577.0 94.0,579.4 99.0,574.3 104.0,583.3 109.0,567.7 114.0,565.5 119.0,580.5 124.0,578.1 129.0,579.4 134.0,565.9 139.0,555.5 144.0,552.5 149.0,551.4 154.0,549.3 159.0,555.5 164.0,553.4 169.0,551.1 174.0,552.3 179.0,553.4 184.0,555.5 189.0,554.4 194.0,559.0 199.0,561.3 204.0,558.6 209.0,557.6 214.0,569.4 219.0,564.5 224.0,559.7 229.0,548.9 234.0,551.4 239.0,557.2 244.0,553.4 249.0,556.2 254.0,551.4 259.0,543.7 264.0,538.2 269.0,535.4 274.0,536.8 279.0,534.0 284.0,532.2 289.0,531.2 294.0,528.5 299.0,540.3 304.0,538.2 309.0,542.3 314.0,540.3 319.0,546.1 324.0,546.5 329.0,545.4 334.0,552.1 339.0,557.6 344.0,552.1 349.0,549.7 354.0,551.1 359.0,553.4 364.0,561.3 369.0,558.3 374.0,549.3 379.0,546.5 384.0,552.5 389.0,557.2 394.0,557.6 399.0,560.0 404.0,561.3 409.0,564.1 414.0,564.5 419.0,565.3 424.0,565.2 429.0,562.5 434.0,555.5 439.0,562.5 444.0,569.4 449.0,568.3 454.0,566.3 459.0,570.1 464.0,570.1 469.0,558.3 474.0,556.9 479.0,554.4 484.0,544.4 489.0,549.3 494.0,540.5 499.0,551.4 504.0,545.5 509.0,543.3 514.0,549.7 519.0,548.3 524.0,539.2 529.0,537.8 534.0,540.2 539.0,549.7 544.0,552.5 549.0,560.4 554.0,559.4 559.0,561.8 564.0,560.4 569.0,559.4 574.0,559.4 579.0,562.2 584.0,569.4 589.0,569.4 594.0,567.3 599.0,578.4 604.0,568.7 609.0,578.4 614.0,572.4 619.0,570.5 624.0,573.3 629.0,571.5 634.0,577.4 639.0,570.6 644.0,568.1 649.0,565.5 654.0,568.3 659.0,560.4 664.0,561.3 669.0,570.1 674.0,567.3 679.0,560.8 684.0,558.3 689.0,559.4 694.0,559.4 699.0,562.2 704.0,568.3 709.0,577.7 714.0,585.3 719.0,582.2" fill="none" stroke="#2aa9e0" stroke-width="1" shape-rendering="crispEdges"/>
<text x="73.10" y="14.5" class="cjk" style="font-weight:500" fill="#111" textLength="47.92" lengthAdjust="spacingAndGlyphs">英镑美元</text>
<text x="117.64" y="14" class="cjk" fill="#ff8000" textLength="55.31" lengthAdjust="spacingAndGlyphs">【60分】</text>
<text x="202.97" y="14" fill="#111" textLength="105.89" lengthAdjust="spacingAndGlyphs">MA(0,50,0,200,0,0)</text>
<text x="313.15" y="14" fill="#3b8cff" textLength="67.70" lengthAdjust="spacingAndGlyphs">MA0:1.3790</text>
<text x="388.95" y="14" fill="#31be84" textLength="74.96" lengthAdjust="spacingAndGlyphs">MA50:1.3795</text>
<text x="471.84" y="14" fill="#22aaea" textLength="68.42" lengthAdjust="spacingAndGlyphs">MA0:1.3790</text>
<text x="547.96" y="14" fill="#ff8a3a" textLength="81.10" lengthAdjust="spacingAndGlyphs">MA200:1.3580</text>
<text x="72.88" y="393.4" fill="#111" textLength="85.41" lengthAdjust="spacingAndGlyphs">MACD(26,12,9)</text>
<text x="162.91" y="393.4" fill="#3b8cff" textLength="65.98" lengthAdjust="spacingAndGlyphs">DIFF:0.0005</text>
<text x="236.89" y="393.4" fill="#31be84" textLength="65.54" lengthAdjust="spacingAndGlyphs">DEA:0.0010</text>
<text x="309.95" y="393.4" fill="#22aaea" textLength="83.14" lengthAdjust="spacingAndGlyphs">MACD:-0.0010</text>
<text x="72.38" y="519.5" fill="#111" textLength="76.36" lengthAdjust="spacingAndGlyphs">RSI(14,14,14)</text>
<text x="152.20" y="519.5" fill="#3b8cff" textLength="73.19" lengthAdjust="spacingAndGlyphs">RSI1:45.4487</text>
<text x="233.29" y="519.5" fill="#31be84" textLength="74.31" lengthAdjust="spacingAndGlyphs">RSI2:45.4487</text>
<text x="315.90" y="519.5" fill="#22aaea" textLength="73.49" lengthAdjust="spacingAndGlyphs">RSI3:45.4487</text>
<text x="397.87" y="519.5" fill="#b4b4b4" textLength="68.58" lengthAdjust="spacingAndGlyphs">L20:20.0000</text>
<text x="473.97" y="519.5" fill="#b4b4b4" textLength="68.58" lengthAdjust="spacingAndGlyphs">L30:30.0000</text>
<text x="549.98" y="519.5" fill="#b4b4b4" textLength="68.17" lengthAdjust="spacingAndGlyphs">L50:50.0000</text>
<text x="625.67" y="519.5" fill="#b4b4b4" textLength="68.58" lengthAdjust="spacingAndGlyphs">L70:70.0000</text>
<text x="702.58" y="519.5" fill="#b4b4b4" textLength="23.80" lengthAdjust="spacingAndGlyphs">L80:</text>
<clipPath id="lc"><rect x="0" y="500" width="726" height="30"/></clipPath>
<g fill="none" stroke="#ff8a1a" stroke-width="1"><circle cx="175.7" cy="11.3" r="4"/><line x1="171.7" y1="11.3" x2="179.7" y2="11.3"/><line x1="175.7" y1="7.3" x2="175.7" y2="15.3" stroke-opacity="0.4"/></g>
<rect x="189.5" y="2.5" width="11.5" height="12.5" fill="#b8b8b8"/>
<rect x="188.8" y="1.8" width="10.9" height="11.6" fill="#fff" stroke="#1a1a8c" stroke-width="1.5"/>
<polyline points="189.3,8.8 192.5,4.4 195.3,7.6 198.9,5.5" fill="none" stroke="#ff1a1a" stroke-width="1"/>
<polyline points="189.3,12.1 192.5,7.3 195.3,10.4 198.9,8.4" fill="none" stroke="#1a1aff" stroke-width="1"/>
<g><circle cx="9.8" cy="513" r="3.6" fill="#fff" stroke="#111" stroke-width="1"/><circle cx="9.8" cy="513" r="1.7" fill="#ff0000"/>
<line x1="14.8" y1="513.0" x2="17.1" y2="513.0" stroke="#ff0000" stroke-width="1.3"/>
<line x1="13.3" y1="516.5" x2="15.0" y2="518.2" stroke="#ff0000" stroke-width="1.3"/>
<line x1="9.8" y1="518.0" x2="9.8" y2="520.3" stroke="#ff0000" stroke-width="1.3"/>
<line x1="6.3" y1="516.5" x2="4.6" y2="518.2" stroke="#ff0000" stroke-width="1.3"/>
<line x1="4.8" y1="513.0" x2="2.5" y2="513.0" stroke="#ff0000" stroke-width="1.3"/>
<line x1="6.3" y1="509.5" x2="4.6" y2="507.8" stroke="#ff0000" stroke-width="1.3"/>
<line x1="9.8" y1="508.0" x2="9.8" y2="505.7" stroke="#ff0000" stroke-width="1.3"/>
<line x1="13.3" y1="509.5" x2="15.0" y2="507.8" stroke="#ff0000" stroke-width="1.3"/>
</g>
<g shape-rendering="crispEdges" fill="#c8ccd4">
<rect x="139" y="614" width="1" height="5"/>
<rect x="294" y="614" width="1" height="5"/>
<rect x="499" y="614" width="1" height="5"/>
</g>
<text x="141" y="626" style="font-weight:bold" fill="#1e1e34">01/23</text>
<text x="296" y="626" style="font-weight:bold" fill="#1e1e34">01/26</text>
<text x="501" y="626" style="font-weight:bold" fill="#1e1e34">01/28</text>
<rect x="1.5" y="613.5" width="69" height="19" fill="#fff" stroke="#d3d9e2" stroke-width="1"/>
<rect x="1" y="632" width="39" height="2" fill="#ff6a00"/>
<text x="15" y="627.6" class="cjk" style="font-weight:bold" fill="#ff7a00">60分</text>
<path d="M50.8 620 L54.8 628 L46.8 628 Z" fill="#ff7a00"/>
<g shape-rendering="crispEdges">
<rect x="732.5" y="1.5" width="13" height="13" fill="#fff" stroke="#1b74cc" stroke-width="1"/>
<g fill="#1b74cc"><rect x="738" y="3" width="2" height="3"/><rect x="734" y="7" width="3" height="2"/><rect x="738" y="7" width="2" height="2"/><rect x="741" y="7" width="3" height="2"/><rect x="738" y="10" width="2" height="3"/></g>
<rect x="748.5" y="1.5" width="13" height="13" fill="#fff" stroke="#1b74cc" stroke-width="1"/>
<rect x="764" y="1" width="14" height="14" fill="#1b74cc"/>
<rect x="780.5" y="1.5" width="13" height="13" fill="#fff" stroke="#1b74cc" stroke-width="1"/>
<g fill="#1b74cc"><rect x="782" y="3" width="4" height="1"/><rect x="782" y="12" width="4" height="1"/><rect x="782" y="3" width="1" height="10"/><rect x="785" y="3" width="1" height="10"/><rect x="784" y="7" width="5" height="2"/></g>
</g>
<g fill="#1b74cc" shape-rendering="crispEdges"><rect x="751" y="3" width="1" height="10"/><rect x="750" y="11" width="10" height="1"/></g>
<path d="M751.5 2.6 L753.4 5 L749.6 5 Z M760.4 11.5 L758 9.6 L758 13.4 Z" fill="#1b74cc"/>
<g fill="#fff" shape-rendering="crispEdges"><rect x="767" y="3" width="1" height="10"/><rect x="766" y="11" width="10" height="1"/></g>
<path d="M767.5 2.6 L769.4 5 L765.6 5 Z M776.4 11.5 L774 9.6 L774 13.4 Z" fill="#fff"/>
<rect x="754" y="4" width="1" height="6" fill="#1b74cc" shape-rendering="crispEdges"/><path d="M755.2 6.6 L758 4 L758 9.2 Z" fill="#1b74cc"/>
<path d="M770.3 4 L775.3 7.4 L770.3 10.8 Z" fill="#fff" opacity="0.85"/>
<path d="M788 5 L791.6 8 L788 11 Z" fill="#1b74cc"/>
</svg></body></html>
